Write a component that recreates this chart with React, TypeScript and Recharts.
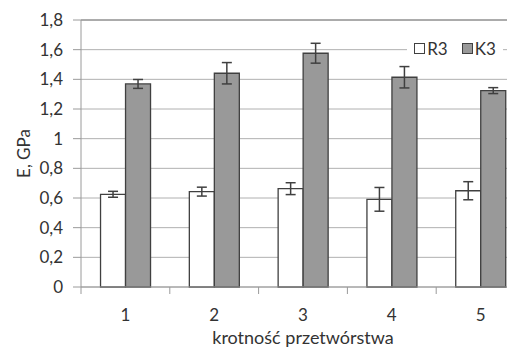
import React from 'react';
import { BarChart, Bar, XAxis, YAxis, CartesianGrid, Legend, ErrorBar, ReferenceLine } from 'recharts';

const categories = ['1', '2', '3', '4', '5'];
const r3Values = [0.625, 0.643, 0.663, 0.591, 0.649];
const r3Errors = [0.02, 0.03, 0.04, 0.08, 0.061];
const k3Values = [1.369, 1.441, 1.576, 1.414, 1.324];
const k3Errors = [0.03, 0.072, 0.067, 0.072, 0.02];
const yTicks = [0, 0.2, 0.4, 0.6, 0.8, 1, 1.2, 1.4, 1.6, 1.8];

const CHART_W = 530;
const CHART_H = 344;
const Y_AXIS_W = 73;
const MARGIN = { top: 12, right: 13, left: 0, bottom: 0 };
const FONT = 'Lato, "Open Sans", sans-serif';
const TEXT = '#333333';
const AXIS = '#9a9a9a';
const OUTLINE = '#404040';

const data = categories.map((c, i) => ({
  name: c,
  R3: r3Values[i],
  r3Err: r3Errors[i],
  K3: k3Values[i],
  k3Err: k3Errors[i],
}));

const band = (CHART_W - MARGIN.right - MARGIN.left - Y_AXIS_W) / categories.length;

const XTick = (props: any) => {
  const { x, y, payload, index } = props;
  return (
    <g>
      <line x1={x - band / 2} x2={x - band / 2} y1={y} y2={y + 7} stroke={AXIS} />
      {index === categories.length - 1 && (
        <line x1={x + band / 2} x2={x + band / 2} y1={y} y2={y + 7} stroke={AXIS} />
      )}
      <text x={x} y={y + 34} textAnchor="middle" fill={TEXT} fontSize={17} fontFamily={FONT}>
        {payload.value}
      </text>
    </g>
  );
};

const LegendBox = () => (
  <div
    style={{
      display: 'flex',
      alignItems: 'center',
      justifyContent: 'center',
      gap: 14,
      background: 'white',
      fontFamily: FONT,
      fontSize: 17,
      color: TEXT,
      height: 20,
    }}
  >
    {[
      { label: 'R3', fill: '#ffffff' },
      { label: 'K3', fill: '#999999' },
    ].map(item => (
      <span key={item.label} style={{ display: 'flex', alignItems: 'center', gap: 2 }}>
        <span
          style={{
            display: 'inline-block',
            width: 9,
            height: 9,
            background: item.fill,
            border: `1px solid ${OUTLINE}`,
          }}
        />
        {item.label}
      </span>
    ))}
  </div>
);

export default function App() {
  return (
    <div style={{ width: CHART_W, height: CHART_H }}>
      <BarChart
        width={CHART_W}
        height={CHART_H}
        data={data}
        margin={MARGIN}
        barCategoryGap="22%"
        barGap={0}
      >
        <CartesianGrid vertical={false} stroke="#b0b0b0" strokeWidth={1} />
        <ReferenceLine y={1.8} stroke="#808080" strokeWidth={1.2} />
        <XAxis
          dataKey="name"
          height={65}
          axisLine={{ stroke: AXIS }}
          tickLine={false}
          tickSize={0}
          tickMargin={0}
          tick={<XTick />}
          interval={0}
          label={(p: any) => {
            const vb = p.viewBox;
            return (
              <text
                x={vb.x + vb.width / 2}
                y={vb.y + 57}
                textAnchor="middle"
                fill={TEXT}
                fontSize={18}
                fontFamily={FONT}
              >
                krotność przetwórstwa
              </text>
            );
          }}
        />
        <YAxis
          width={Y_AXIS_W}
          domain={[0, 1.8]}
          ticks={yTicks}
          interval={0}
          axisLine={{ stroke: AXIS }}
          tickLine={{ stroke: AXIS }}
          tickSize={8}
          tickMargin={10}
          tick={{ fill: TEXT, fontSize: 17, fontFamily: FONT }}
          tickFormatter={(v: number) => String(v).replace('.', ',')}
          label={(p: any) => {
            const vb = p.viewBox;
            const cx = vb.x + 22;
            const cy = vb.y + vb.height / 2;
            return (
              <text
                x={cx}
                y={cy}
                transform={`rotate(-90 ${cx} ${cy})`}
                textAnchor="middle"
                fill={TEXT}
                fontSize={17}
                fontFamily={FONT}
              >
                E, GPa
              </text>
            );
          }}
        />
        <Legend
          layout="horizontal"
          verticalAlign="middle"
          align="center"
          content={<LegendBox />}
          wrapperStyle={{ top: 30, left: 399, width: 96 }}
        />
        <Bar dataKey="R3" fill="#ffffff" stroke={OUTLINE} strokeWidth={1.3} isAnimationActive={false}>
          <ErrorBar dataKey="r3Err" width={5} stroke={OUTLINE} strokeWidth={1.5} isAnimationActive={false} />
        </Bar>
        <Bar dataKey="K3" fill="#999999" stroke={OUTLINE} strokeWidth={1.3} isAnimationActive={false}>
          <ErrorBar dataKey="k3Err" width={5} stroke={OUTLINE} strokeWidth={1.5} isAnimationActive={false} />
        </Bar>
      </BarChart>
    </div>
  );
}
